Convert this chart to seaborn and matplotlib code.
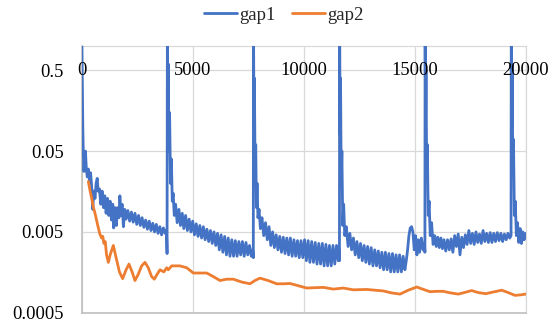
import matplotlib
matplotlib.use("Agg")
import matplotlib.pyplot as plt
import seaborn as sns
import pandas as pd

# gap1: iteration / value pairs (restarts every ~3900 iterations)
gap1_iter = [
    0, 25, 50, 75, 100, 130, 170, 210, 250, 300, 350, 400, 450, 500, 540, 600, 650, 700, 740,
    800, 860, 920, 980, 1040, 1100, 1160, 1220, 1280, 1340, 1400, 1440, 1500, 1560, 1620, 1680,
    1720, 1770, 1820, 1880, 1940, 2000, 2080, 2160, 2240, 2320, 2400, 2480, 2560, 2640, 2720,
    2800, 2880, 2960, 3040, 3120, 3200, 3280, 3360, 3440, 3520, 3600, 3680, 3760, 3820, 3845,
    3860, 3880, 3900, 3930, 3960, 4000, 4040, 4080, 4120, 4170, 4230, 4300, 4380, 4450, 4530,
    4600, 4680, 4760, 4840, 4920, 5000, 5080, 5160, 5240, 5320, 5400, 5480, 5560, 5640, 5720,
    5800, 5880, 5960, 6040, 6120, 6200, 6280, 6360, 6440, 6520, 6600, 6680, 6760, 6840, 6920,
    7000, 7080, 7160, 7240, 7320, 7400, 7480, 7560, 7640, 7700, 7730,
    7740, 7760, 7780, 7810, 7840, 7870, 7900, 7940, 7990, 8050, 8120, 8200, 8280, 8360, 8440,
    8520, 8600, 8680, 8760, 8840, 8920, 9000, 9080, 9160, 9240, 9320, 9400, 9480, 9560, 9640,
    9720, 9800, 9880, 9960, 10040, 10120, 10200, 10280, 10360, 10440, 10520, 10600, 10680,
    10760, 10840, 10920, 11000, 11080, 11160, 11240, 11320, 11400, 11480, 11560, 11600, 11610,
    11620, 11640, 11660, 11690, 11720, 11760, 11800, 11850, 11920, 12000, 12080, 12160, 12240,
    12320, 12400, 12480, 12560, 12640, 12720, 12800, 12880, 12960, 13040, 13120, 13200, 13280,
    13360, 13440, 13520, 13600, 13680, 13760, 13840, 13920, 14000, 14080, 14160, 14240, 14320,
    14400, 14480, 14560, 14620, 14680, 14740, 14800, 14860, 14920, 14980, 15040, 15100, 15160,
    15220, 15300, 15380, 15440, 15460,
    15470, 15490, 15510, 15540, 15570, 15610, 15650, 15700, 15760, 15830, 15900, 15970, 16040,
    16110, 16180, 16250, 16320, 16400, 16480, 16560, 16640, 16720, 16800, 16880, 16960, 17040,
    17120, 17200, 17280, 17360, 17440, 17520, 17600, 17680, 17760, 17840, 17920, 18000, 18080,
    18160, 18240, 18320, 18400, 18480, 18560, 18640, 18720, 18800, 18880, 18960, 19040, 19120,
    19200, 19280, 19340,
    19350, 19370, 19390, 19420, 19450, 19490, 19530, 19580, 19630, 19690, 19750, 19810, 19870,
    19930, 20000,
]
gap1_val = [
    2.0, 0.4, 0.1, 0.045, 0.028, 0.042, 0.05, 0.03, 0.024, 0.030, 0.021, 0.027, 0.018, 0.0095,
    0.016, 0.013, 0.020, 0.023, 0.016,
    0.017, 0.011, 0.016, 0.010, 0.014, 0.0085, 0.013, 0.0080, 0.012, 0.0070, 0.011, 0.0056,
    0.010, 0.0060, 0.010, 0.0075,
    0.014, 0.0080, 0.011, 0.0058, 0.0095, 0.0072, 0.0092, 0.0068, 0.0088, 0.0066, 0.0085,
    0.0062, 0.0080, 0.0060, 0.0075,
    0.0057, 0.0070, 0.0054, 0.0068, 0.0052, 0.0064, 0.0050, 0.0062, 0.0048, 0.0058, 0.0046,
    0.0056, 0.0048, 0.0052, 0.0027,
    2.0, 0.15, 0.6, 0.05, 0.15, 0.02, 0.04, 0.012, 0.015, 0.008, 0.011, 0.0065, 0.0095, 0.006,
    0.0085,
    0.0055, 0.0080, 0.0052, 0.0072, 0.0050, 0.0068, 0.0046, 0.0063, 0.0044, 0.0060, 0.0042,
    0.0058, 0.0040, 0.0054, 0.0038,
    0.0052, 0.0036, 0.0050, 0.0034, 0.0048, 0.0030, 0.0046, 0.0028, 0.0044, 0.0026, 0.0042,
    0.0025, 0.0040, 0.0025, 0.0039,
    0.0025, 0.0038, 0.0026, 0.0038, 0.0025, 0.0037, 0.0026, 0.0034, 0.0025, 0.0030, 0.0024,
    2.0, 0.1, 0.4, 0.03, 0.06, 0.010, 0.02, 0.0075, 0.0095, 0.0055, 0.0075, 0.0045, 0.0065,
    0.0040, 0.0058,
    0.0034, 0.0050, 0.0032, 0.0046, 0.0030, 0.0044, 0.0028, 0.0043, 0.0027, 0.0042, 0.0026,
    0.0042, 0.0025, 0.0040, 0.0025,
    0.0039, 0.0024, 0.0039, 0.0024, 0.0040, 0.0022, 0.0039, 0.0021, 0.0038, 0.0021, 0.0037,
    0.0020, 0.0036,
    0.0020, 0.0036, 0.0019, 0.0035, 0.0019, 0.0034, 0.0019, 0.0034, 0.0020, 0.0034, 0.0022,
    0.0030, 0.0022,
    2.0, 0.08, 0.4, 0.02, 0.05, 0.006, 0.011, 0.0045, 0.0058, 0.0033, 0.0048, 0.0030, 0.0042,
    0.0026, 0.0038, 0.0024, 0.0036, 0.0022, 0.0034, 0.0021, 0.0033, 0.0020, 0.0032, 0.0019,
    0.0030, 0.0019,
    0.0029, 0.0018, 0.0028, 0.0017, 0.0028, 0.0017, 0.0027, 0.0016, 0.0027, 0.0016, 0.0026,
    0.0016, 0.0026,
    0.0016, 0.0025, 0.0017, 0.0022, 0.0030, 0.0045, 0.0056, 0.0058, 0.0050, 0.0030, 0.0045,
    0.0026, 0.0040,
    0.0028, 0.0042, 0.0030, 0.0036, 0.0028,
    2.0, 0.1, 0.5, 0.03, 0.06, 0.008, 0.012, 0.0045, 0.0065, 0.0035, 0.0045, 0.0033, 0.0043,
    0.0032, 0.0042, 0.0031, 0.0040, 0.0029, 0.0040, 0.0030, 0.0041, 0.0028, 0.0045, 0.0033,
    0.0047, 0.0026,
    0.0043, 0.0032, 0.0046, 0.0035, 0.0052, 0.0036, 0.0048, 0.0035, 0.0050, 0.0037, 0.0047,
    0.0036, 0.0052,
    0.0038, 0.0048, 0.0037, 0.0049, 0.0037, 0.0048, 0.0038, 0.0049, 0.0039, 0.0048, 0.0038,
    0.0047, 0.0040,
    0.0048, 0.0042, 0.0045,
    2.0, 0.1, 0.6, 0.03, 0.07, 0.008, 0.012, 0.0045, 0.0065, 0.0037, 0.0055, 0.0036, 0.0050,
    0.0040, 0.0048,
]

# gap2: iteration / value pairs
gap2_iter = [
    300, 380, 450, 530, 600, 680, 750, 820, 900, 950, 1000, 1060, 1120, 1200, 1300, 1425, 1550,
    1700, 1845, 2000, 2130, 2270, 2400, 2550, 2700, 2850, 3000, 3150, 3270, 3400, 3527, 3700,
    3830, 3900, 4054, 4200, 4428, 4730, 5030, 5330, 5630, 5930, 6230, 6530, 6830, 7200, 7581,
    7800, 8032, 8400, 8784, 9100, 9383, 9750, 10135, 10500, 10883, 11333, 11784, 12234, 12838,
    13200, 13586, 13950, 14338, 14712, 15090, 15400, 15689, 16000, 16288, 16600, 16964, 17250,
    17568, 17850, 18200, 18919, 19200, 19518, 19750, 20000,
]
gap2_val = [
    0.021, 0.016, 0.0130, 0.0100, 0.0085, 0.0068, 0.0056, 0.0047, 0.0042, 0.0044, 0.0036,
    0.0038, 0.0026, 0.0021, 0.0027, 0.0034, 0.0024,
    0.0016, 0.00132, 0.0017, 0.0020, 0.0016, 0.00125, 0.0015, 0.0019, 0.0021, 0.0018, 0.0014,
    0.0013, 0.0015, 0.0017, 0.0016,
    0.0018, 0.0017, 0.0019, 0.0019, 0.0019, 0.0018, 0.00155, 0.00155, 0.00155, 0.0014,
    0.00125, 0.0013, 0.0013, 0.0012, 0.00114,
    0.00125, 0.00134, 0.00125, 0.00114, 0.00114, 0.00115, 0.00108, 0.00101, 0.00102, 0.00103,
    0.00098, 0.00101, 0.00096, 0.00097,
    0.00095, 0.00093, 0.00088, 0.00085, 0.00095, 0.00104, 0.00097, 0.00091, 0.00092, 0.00092,
    0.00088, 0.00085, 0.00089,
    0.00094, 0.00089, 0.00086, 0.00095, 0.00089, 0.00082, 0.00083, 0.00085,
]

y_ticks = [0.5, 0.05, 0.005, 0.0005]
y_tick_labels = ["0.5", "0.05", "0.005", "0.0005"]
x_ticks = [0, 5000, 10000, 15000, 20000]
x_tick_labels = ["0", "5000", "10000", "15000", "20000"]

BLUE = "#4472C4"
ORANGE = "#ED7D31"
GRID = "#D9D9D9"

sns.set_theme(style="white")
plt.rcParams["font.family"] = ["Liberation Serif", "DejaVu Serif"]

fig = plt.figure(figsize=(5.58, 3.29), dpi=100)
ax = fig.add_axes([0.1464, 0.0495, 0.7957, 0.8107])

df1 = pd.DataFrame({"iteration": gap1_iter, "gap": gap1_val})
df2 = pd.DataFrame({"iteration": gap2_iter, "gap": gap2_val})

sns.lineplot(data=df1, x="iteration", y="gap", ax=ax, color=BLUE, linewidth=2.0,
             estimator=None, sort=False, label="gap1", zorder=3)
sns.lineplot(data=df2, x="iteration", y="gap", ax=ax, color=ORANGE, linewidth=2.0,
             estimator=None, sort=False, label="gap2", zorder=4)

ax.set_yscale("log")
ax.set_ylim(0.0005, 1.0)
ax.set_xlim(0, 20000)
ax.set_yticks(y_ticks)
ax.set_yticklabels(y_tick_labels)
ax.minorticks_off()
ax.set_xticks(x_ticks)
ax.set_xticklabels([])
ax.set_xlabel("")
ax.set_ylabel("")
ax.grid(True, color=GRID, linewidth=0.9)
ax.set_axisbelow(True)
ax.tick_params(axis="y", length=0, pad=13, labelsize=13.3, labelcolor="black")
ax.tick_params(axis="x", length=0)

# horizontal axis crosses at 0.5, so its labels sit on that gridline
for xv, lab in zip(x_ticks, x_tick_labels):
    ax.text(xv, 0.5, lab, ha="center", va="center", fontsize=13.3, color="black",
            zorder=6, clip_on=False)

for side in ["top", "right"]:
    ax.spines[side].set_color(GRID)
    ax.spines[side].set_linewidth(0.9)
for side in ["left", "bottom"]:
    ax.spines[side].set_color("#BFBFBF")
    ax.spines[side].set_linewidth(1.2)

ax.get_legend().remove()
handles, labels = ax.get_legend_handles_labels()
fig.legend(handles, labels, loc="center", bbox_to_anchor=(284 / 558, 1 - 15 / 329),
           ncol=2, frameon=False, fontsize=13.5, handlelength=1.75, handletextpad=0.15,
           columnspacing=0.85, borderaxespad=0)

fig.savefig("out.png", dpi=100)
